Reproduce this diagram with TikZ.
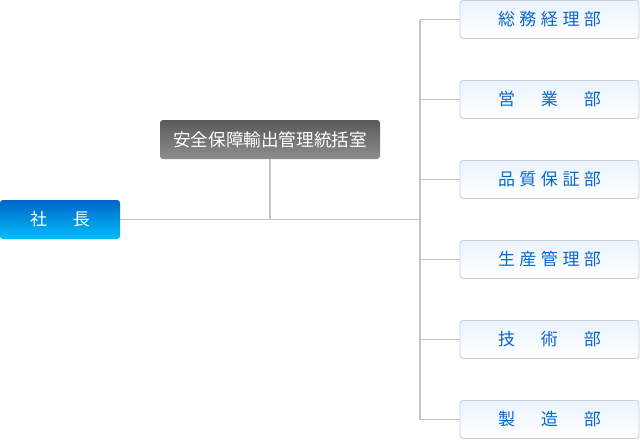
\documentclass[tikz,border=0pt]{standalone}
\usepackage{fontspec}
\newfontfamily\jpfont{Noto Sans CJK JP}
\usetikzlibrary{positioning,calc}

\definecolor{linegray}{HTML}{C4C4C4}
\definecolor{deptblue}{HTML}{0A66C8}
\definecolor{depttop}{HTML}{EAF4FF}
\definecolor{deptline}{HTML}{C8CDD2}
\definecolor{prestop}{HTML}{0064C8}
\definecolor{presbot}{HTML}{00BEF8}
\definecolor{sectop}{HTML}{5A5A5A}
\definecolor{secbot}{HTML}{8E8E8E}

% 文字を等間隔に並べる
\newcommand{\cw}[2]{\makebox[#1pt]{#2}}

\begin{document}
\begin{tikzpicture}[x=1pt, y=-1pt, font=\jpfont\fontsize{17}{17}\selectfont]

  % 画布
  \useasboundingbox (0,0) rectangle (640,440);

  % 箱のスタイル
  \tikzset{
    presbox/.style={rounded corners=3pt, top color=prestop, bottom color=presbot,
      text=white, minimum width=120pt, minimum height=39pt, inner sep=0pt},
    secbox/.style={rounded corners=3pt, top color=sectop, bottom color=secbot,
      text=white, minimum width=220pt, minimum height=39pt, inner sep=0pt,
      font=\jpfont\fontsize{17.6}{17.6}\selectfont},
    deptbox/.style={rounded corners=3pt, top color=depttop, bottom color=white,
      draw=deptline, line width=0.8pt, text=deptblue,
      minimum width=179pt, minimum height=38pt, inner sep=0pt},
    wire/.style={draw=linegray, line width=1.6pt},
    lift/.style={yshift=1.5pt}
  }

  % 社長と統括室
  \node[presbox] (pres) at (60,219.5) {\raisebox{1.5pt}{\cw{43}{社}\cw{43}{長}}};
  \node[secbox]  (sec)  at (270,139.5) {\raisebox{1.5pt}{安全保障輸出管理統括室}};

  % 幹線
  \coordinate (busTop) at (420,19.5);
  \coordinate (busBot) at (420,419.5);

  % 各部
  \node[deptbox] (dept1) at (549.5,19.5)  {\raisebox{1.5pt}{\cw{21.5}{総}\cw{21.5}{務}\cw{21.5}{経}\cw{21.5}{理}\cw{21.5}{部}}};
  \node[deptbox] (dept2) at (549.5,99.5)  {\raisebox{1.5pt}{\cw{43}{営}\cw{43}{業}\cw{43}{部}}};
  \node[deptbox] (dept3) at (549.5,179.5) {\raisebox{1.5pt}{\cw{21.5}{品}\cw{21.5}{質}\cw{21.5}{保}\cw{21.5}{証}\cw{21.5}{部}}};
  \node[deptbox] (dept4) at (549.5,259.5) {\raisebox{1.5pt}{\cw{21.5}{生}\cw{21.5}{産}\cw{21.5}{管}\cw{21.5}{理}\cw{21.5}{部}}};
  \node[deptbox] (dept5) at (549.5,339.5) {\raisebox{1.5pt}{\cw{43}{技}\cw{43}{術}\cw{43}{部}}};
  \node[deptbox] (dept6) at (549.5,419.5) {\raisebox{1.5pt}{\cw{43}{製}\cw{43}{造}\cw{43}{部}}};

  % 接続線
  \draw[wire] (busTop) -- (busBot);
  \draw[wire] (pres.east) -- (pres.east -| busTop);
  \draw[wire] (sec.south) -- (sec.south |- pres.east);
  \foreach \i in {1,...,6}
    \draw[wire] (dept\i.west) -- (dept\i.west -| busTop);

\end{tikzpicture}
\end{document}
